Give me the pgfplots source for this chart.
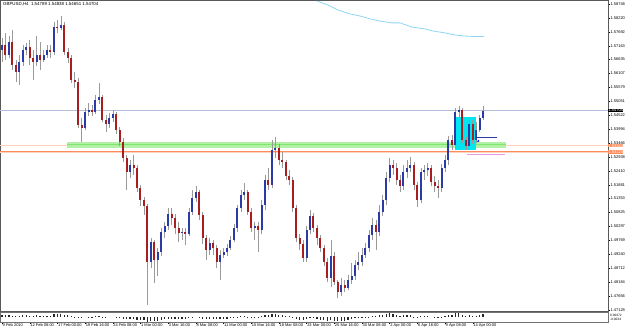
\documentclass[border=0pt]{standalone}
\usepackage{fontspec}
\setmainfont{Liberation Sans}
\usepackage{pgfplots}
\usepackage{pgfplotstable}
\pgfplotsset{compat=1.18}
\definecolor{wick}{HTML}{9A9A9A}
\definecolor{bull}{HTML}{2A3AA6}
\definecolor{bear}{HTML}{A81E1E}
\definecolor{band}{HTML}{B2F0A6}
\definecolor{bandc}{HTML}{7FE56F}
\definecolor{coral}{HTML}{FF8A5C}
\definecolor{coralc}{HTML}{FFD2BE}
\definecolor{bidc}{HTML}{B6BCDC}
\definecolor{aqua}{HTML}{00E6F0}
\definecolor{skyl}{HTML}{8CD6F2}
\definecolor{navy2}{HTML}{2A3AA8}
\definecolor{pinkl}{HTML}{E49AE4}
\newcommand\tf{\fontsize{4}{4.5}\selectfont}

\pgfplotstableread{
i o h l c
0 1.5700 1.5746 1.5654 1.5719
1 1.5719 1.5765 1.5662 1.5681
2 1.5681 1.5753 1.5670 1.5730
3 1.5730 1.5776 1.5624 1.5643
4 1.5643 1.5662 1.5578 1.5616
5 1.5616 1.5681 1.5567 1.5654
6 1.5654 1.5719 1.5639 1.5700
7 1.5700 1.5727 1.5681 1.5711
8 1.5711 1.5738 1.5643 1.5670
9 1.5670 1.5700 1.5586 1.5654
10 1.5654 1.5753 1.5639 1.5681
11 1.5681 1.5730 1.5624 1.5662
12 1.5662 1.5700 1.5654 1.5681
13 1.5681 1.5719 1.5670 1.5700
14 1.5700 1.5719 1.5670 1.5692
15 1.5692 1.5806 1.5681 1.5787
16 1.5787 1.5814 1.5765 1.5784
17 1.5784 1.5829 1.5776 1.5795
18 1.5795 1.5806 1.5681 1.5692
19 1.5692 1.5708 1.5651 1.5670
20 1.5670 1.5681 1.5575 1.5586
21 1.5586 1.5616 1.5556 1.5578
22 1.5578 1.5594 1.5404 1.5415
23 1.5415 1.5442 1.5350 1.5404
24 1.5404 1.5480 1.5396 1.5465
25 1.5465 1.5499 1.5449 1.5472
26 1.5472 1.5491 1.5449 1.5465
27 1.5465 1.5529 1.5457 1.5510
28 1.5510 1.5575 1.5495 1.5521
29 1.5521 1.5529 1.5426 1.5434
30 1.5434 1.5453 1.5388 1.5419
31 1.5419 1.5461 1.5404 1.5442
32 1.5442 1.5472 1.5426 1.5457
33 1.5457 1.5465 1.5381 1.5396
34 1.5396 1.5407 1.5335 1.5350
35 1.5350 1.5366 1.5274 1.5290
36 1.5290 1.5301 1.5168 1.5236
37 1.5236 1.5282 1.5214 1.5263
38 1.5263 1.5301 1.5225 1.5252
39 1.5252 1.5263 1.5160 1.5176
40 1.5176 1.5187 1.5107 1.5130
41 1.5130 1.5141 1.5073 1.5107
42 1.5107 1.5115 1.4731 1.4894
43 1.4894 1.4986 1.4872 1.4970
44 1.4970 1.4978 1.4815 1.4902
45 1.4902 1.4948 1.4841 1.4932
46 1.4932 1.5024 1.4917 1.5008
47 1.5008 1.5046 1.4986 1.5031
48 1.5031 1.5100 1.5016 1.5077
49 1.5077 1.5100 1.5035 1.5062
50 1.5062 1.5077 1.5001 1.5024
51 1.5024 1.5046 1.4970 1.5005
52 1.5005 1.5024 1.4978 1.5008
53 1.5008 1.5024 1.4959 1.5001
54 1.5001 1.5100 1.4993 1.5084
55 1.5084 1.5168 1.5073 1.5138
56 1.5138 1.5183 1.5122 1.5160
57 1.5160 1.5168 1.5054 1.5073
58 1.5073 1.5084 1.4963 1.4986
59 1.4986 1.4997 1.4902 1.4940
60 1.4940 1.4986 1.4921 1.4967
61 1.4967 1.4978 1.4921 1.4948
62 1.4948 1.4959 1.4872 1.4894
63 1.4894 1.4940 1.4826 1.4921
64 1.4921 1.4948 1.4910 1.4932
65 1.4932 1.4963 1.4917 1.4948
66 1.4948 1.4993 1.4940 1.4978
67 1.4978 1.5039 1.4970 1.5024
68 1.5024 1.5111 1.5008 1.5100
69 1.5100 1.5168 1.5084 1.5149
70 1.5149 1.5195 1.5130 1.5160
71 1.5160 1.5168 1.5073 1.5084
72 1.5084 1.5100 1.5008 1.5024
73 1.5024 1.5046 1.4978 1.5031
74 1.5031 1.5046 1.4932 1.5016
75 1.5016 1.5130 1.5001 1.5111
76 1.5111 1.5225 1.5092 1.5206
77 1.5206 1.5252 1.5168 1.5187
78 1.5187 1.5358 1.5176 1.5320
79 1.5320 1.5369 1.5290 1.5328
80 1.5328 1.5343 1.5263 1.5282
81 1.5282 1.5312 1.5252 1.5274
82 1.5274 1.5282 1.5206 1.5221
83 1.5221 1.5244 1.5187 1.5206
84 1.5206 1.5217 1.5084 1.5100
85 1.5100 1.5111 1.4970 1.4986
86 1.4986 1.5001 1.4940 1.4963
87 1.4963 1.4978 1.4894 1.4910
88 1.4910 1.5031 1.4894 1.5016
89 1.5016 1.5092 1.5001 1.5069
90 1.5069 1.5081 1.5008 1.5024
91 1.5024 1.5035 1.4959 1.4986
92 1.4986 1.4997 1.4932 1.4948
93 1.4948 1.4959 1.4879 1.4894
94 1.4894 1.4910 1.4818 1.4834
95 1.4834 1.4978 1.4799 1.4917
96 1.4917 1.4932 1.4807 1.4818
97 1.4818 1.4826 1.4758 1.4780
98 1.4780 1.4834 1.4765 1.4807
99 1.4807 1.4826 1.4780 1.4796
100 1.4796 1.4845 1.4788 1.4826
101 1.4826 1.4891 1.4811 1.4841
102 1.4841 1.4902 1.4826 1.4883
103 1.4883 1.4932 1.4864 1.4894
104 1.4894 1.4948 1.4879 1.4921
105 1.4921 1.4967 1.4910 1.4948
106 1.4948 1.5016 1.4932 1.4997
107 1.4997 1.5062 1.4978 1.5035
108 1.5035 1.5054 1.4940 1.5008
109 1.5008 1.5111 1.4993 1.5084
110 1.5084 1.5149 1.5069 1.5130
111 1.5130 1.5236 1.5111 1.5214
112 1.5214 1.5290 1.5198 1.5263
113 1.5263 1.5282 1.5225 1.5252
114 1.5252 1.5271 1.5187 1.5206
115 1.5206 1.5225 1.5160 1.5183
116 1.5183 1.5263 1.5168 1.5236
117 1.5236 1.5282 1.5214 1.5252
118 1.5252 1.5293 1.5236 1.5263
119 1.5263 1.5274 1.5168 1.5187
120 1.5187 1.5198 1.5103 1.5130
121 1.5130 1.5252 1.5119 1.5236
122 1.5236 1.5263 1.5206 1.5244
123 1.5244 1.5271 1.5221 1.5252
124 1.5252 1.5263 1.5183 1.5198
125 1.5198 1.5221 1.5160 1.5183
126 1.5183 1.5206 1.5138 1.5176
127 1.5176 1.5267 1.5160 1.5252
128 1.5252 1.5301 1.5236 1.5282
129 1.5282 1.5373 1.5263 1.5358
130 1.5358 1.5377 1.5320 1.5339
131 1.5339 1.5480 1.5328 1.5465
132 1.5465 1.5487 1.5442 1.5472
133 1.5472 1.5480 1.5347 1.5358
134 1.5358 1.5369 1.5320 1.5335
135 1.5335 1.5434 1.5328 1.5419
136 1.5419 1.5434 1.5343 1.5358
137 1.5358 1.5426 1.5347 1.5396
138 1.5396 1.5453 1.5388 1.5442
139 1.5442 1.5487 1.5434 1.5470
}\candles

\pgfplotstableread{
i v
0 0.5
1 0.4
2 0.5
3 0.3
4 0.2
5 0.3
6 0.4
7 0.4
8 0.3
9 0.3
10 0.4
11 0.3
12 0.3
13 0.3
14 0.3
15 0.6
16 0.7
17 0.7
18 0.5
19 0.4
20 0.2
21 0.1
22 -0.2
23 -0.2
24 0.0
25 0.1
26 0.1
27 0.2
28 0.2
29 -0.1
30 -0.1
31 0.0
32 0.0
33 -0.2
34 -0.3
35 -0.4
36 -0.5
37 -0.4
38 -0.4
39 -0.6
40 -0.7
41 -0.7
42 -1.0
43 -0.9
44 -0.9
45 -0.8
46 -0.6
47 -0.5
48 -0.4
49 -0.4
50 -0.5
51 -0.5
52 -0.5
53 -0.5
54 -0.3
55 -0.1
56 0.0
57 -0.2
58 -0.4
59 -0.5
60 -0.4
61 -0.4
62 -0.5
63 -0.5
64 -0.4
65 -0.4
66 -0.3
67 -0.1
68 0.1
69 0.3
70 0.3
71 0.1
72 -0.1
73 -0.1
74 -0.1
75 0.2
76 0.4
77 0.4
78 0.7
79 0.7
80 0.5
81 0.5
82 0.3
83 0.3
84 -0.1
85 -0.5
86 -0.6
87 -0.7
88 -0.5
89 -0.3
90 -0.3
91 -0.5
92 -0.6
93 -0.7
94 -0.9
95 -0.6
96 -0.8
97 -0.9
98 -0.8
99 -0.8
100 -0.6
101 -0.5
102 -0.3
103 -0.3
104 -0.2
105 -0.1
106 0.1
107 0.3
108 0.2
109 0.4
110 0.5
111 0.7
112 0.8
113 0.7
114 0.4
115 0.3
116 0.4
117 0.4
118 0.4
119 0.1
120 -0.1
121 0.2
122 0.2
123 0.2
124 0.0
125 -0.1
126 -0.1
127 0.1
128 0.2
129 0.5
130 0.4
131 0.8
132 0.8
133 0.4
134 0.3
135 0.5
136 0.3
137 0.3
138 0.5
139 0.6
}\ind

\begin{document}
\begin{tikzpicture}
\path[use as bounding box] (0pt,0pt) rectangle (625pt,330pt);
\begin{axis}[
  at={(0pt,19pt)}, anchor=south west, scale only axis,
  width=608pt, height=311pt,
  xmin=-0.58, xmax=175.1, ymin=1.47082, ymax=1.589,
  xtick=\empty,
  ytick={1.47128,1.47656,1.48184,1.48712,1.49240,1.49769,1.50297,1.50825,1.51353,1.51881,1.52410,1.52938,1.53466,1.53994,1.54522,1.55051,1.55579,1.56107,1.56635,1.57163,1.57692,1.58220,1.58748},
  yticklabels={1.47128,1.47656,1.48184,1.48712,1.49240,1.49769,1.50297,1.50825,1.51353,1.51881,1.52410,1.52938,1.53466,1.53994,1.54522,1.55051,1.55579,1.56107,1.56635,1.57163,1.57692,1.58220,1.58748},
  ytick pos=right, tick align=outside, major tick length=2pt,
  tick style={black, line width=0.3pt},
  yticklabel style={font=\tf, anchor=west, inner sep=0pt, xshift=0.3pt},
  axis line style={black!65, line width=0.4pt},
  clip mode=individual,
]
% background objects
\addplot[coral, line width=1.6pt, forget plot] coordinates {(-1,1.53364) (176,1.53364)};
\addplot[coralc, line width=0.4pt, forget plot] coordinates {(-1,1.53364) (176,1.53364)};
\addplot[coral, line width=1.6pt, forget plot] coordinates {(-1,1.53124) (176,1.53124)};
\addplot[coralc, line width=0.4pt, forget plot] coordinates {(-1,1.53124) (176,1.53124)};
\addplot[fill=band, draw=none, forget plot] coordinates {(18.8,1.5327) (145.7,1.5327) (145.7,1.5352) (18.8,1.5352)} -- cycle;
\addplot[bandc, line width=1.3pt, forget plot] coordinates {(18.8,1.5340) (145.7,1.5340)};
\addplot[bidc, line width=0.6pt, forget plot] coordinates {(-1,1.54704) (176,1.54704)};
\addplot[fill=aqua, draw=none, forget plot] coordinates {(130.9,1.5320) (137.0,1.5320) (137.0,1.54454) (130.9,1.54454)} -- cycle;
% wicks
\addplot[draw=none, mark=none, forget plot,
  error bars/.cd, y dir=both, y explicit, error mark=none,
  error bar style={line width=0.5pt, draw=wick, solid}]
  table[x=i, y expr={0.5*(\thisrow{h}+\thisrow{l})}, y error expr={0.5*(\thisrow{h}-\thisrow{l})}] {\candles};
% bull bodies
\addplot[draw=none, mark=none, forget plot,
  restrict expr to domain={\thisrow{c}-\thisrow{o}}{0:1},
  error bars/.cd, y dir=both, y explicit, error mark=none,
  error bar style={line width=2pt, draw=bull, solid}]
  table[x=i, y expr={0.5*(\thisrow{o}+\thisrow{c})}, y error expr={max(0.5*abs(\thisrow{c}-\thisrow{o}),0.00006)}] {\candles};
% bear bodies
\addplot[draw=none, mark=none, forget plot,
  restrict expr to domain={\thisrow{c}-\thisrow{o}}{-1:0},
  error bars/.cd, y dir=both, y explicit, error mark=none,
  error bar style={line width=2pt, draw=bear, solid}]
  table[x=i, y expr={0.5*(\thisrow{o}+\thisrow{c})}, y error expr={max(0.5*abs(\thisrow{c}-\thisrow{o}),0.00006)}] {\candles};
% foreground objects
\addplot[skyl, line width=0.8pt, forget plot] coordinates {
(91.0,1.5886) (94.2,1.5871) (97.1,1.5852) (100.6,1.5837) (103.5,1.5829) (106.4,1.5818) (109.2,1.5810) (112.7,1.5803) (115.0,1.5803) (118.5,1.5787) (122.3,1.5780) (124.6,1.5772) (128.0,1.5765) (130.9,1.5757) (133.8,1.5753) (136.7,1.5751) (139.3,1.5751)};
\addplot[navy2, line width=0.7pt, forget plot] coordinates {(136.7,1.53675) (143.1,1.53675)};
\addplot[blue, only marks, mark=triangle*, mark size=0.9pt, forget plot] coordinates {(137.6,1.5354)};
\addplot[pinkl, line width=0.6pt, forget plot] coordinates {(134.4,1.53048) (145.4,1.53048)};
\coordinate (bidR) at (axis cs:175.1,1.54704);
\coordinate (o1R) at (axis cs:175.1,1.53364);
\coordinate (o2R) at (axis cs:175.1,1.53124);
\end{axis}
\node[anchor=west, fill=black, text=white, inner sep=0.4pt, font=\tf] at (bidR) {1.54704};
\node[anchor=west, fill=coral, text=white, inner sep=0.4pt, font=\tf] at (o1R) {1.53364};
\node[anchor=west, fill=coral, text=white, inner sep=0.4pt, font=\tf] at (o2R) {1.53124};
\node[anchor=west, inner sep=0pt, font=\fontsize{4.4}{5}\selectfont] at (3pt,325.5pt) {GBPUSD,H4\ \ 1.54789 1.54838 1.54651 1.54704};

\begin{axis}[
  at={(0pt,8pt)}, anchor=south west, scale only axis,
  width=608pt, height=10pt,
  xmin=-0.58, xmax=175.1, ymin=-1.1, ymax=1.1,
  ytick=\empty,
  xtick={0,8,...,136},
  xticklabels={9 Feb 2010,12 Feb 08:00,17 Feb 00:00,19 Feb 16:00,24 Feb 08:00,1 Mar 00:00,3 Mar 16:00,8 Mar 08:00,11 Mar 00:00,15 Mar 16:00,18 Mar 08:00,23 Mar 00:00,25 Mar 16:00,30 Mar 08:00,2 Apr 00:00,6 Apr 16:00,9 Apr 08:00,14 Apr 00:00},
  xtick pos=bottom, tick align=outside, major tick length=1.5pt,
  tick style={black, line width=0.3pt},
  xticklabel style={font=\tf, anchor=north west, inner sep=0pt, xshift=0.5pt},
  axis line style={black!55, line width=0.4pt},
]
\addplot[ycomb, black!85, line width=1.2pt, forget plot] table[x=i, y=v] {\ind};
\end{axis}
\node[anchor=west, inner sep=0pt, font=\fontsize{3.2}{3.5}\selectfont] at (610pt,15pt) {0.00372};
\node[anchor=west, inner sep=0pt, font=\fontsize{3.2}{3.5}\selectfont] at (610pt,11pt) {-0.0034};
\end{tikzpicture}
\end{document}
